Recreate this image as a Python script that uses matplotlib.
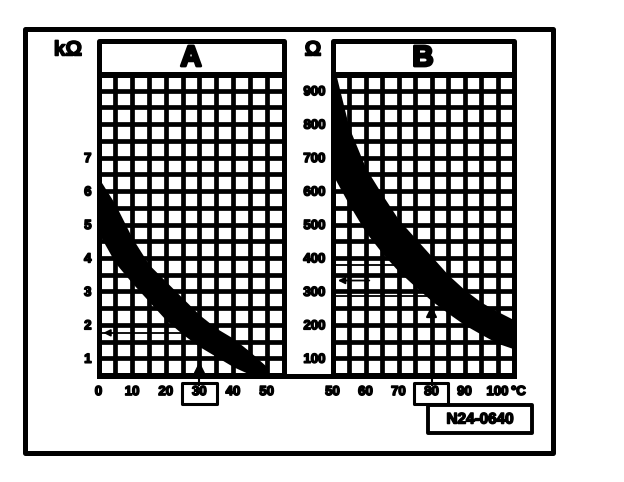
import numpy as np
import matplotlib
matplotlib.use('Agg')
import matplotlib.pyplot as plt
import matplotlib.patheffects as pe
from matplotlib.patches import Rectangle
from matplotlib.lines import Line2D
from matplotlib.transforms import IdentityTransform

plt.rcParams['font.family'] = ['Liberation Sans', 'DejaVu Sans']

# sensor A: resistance band (kOhm) over temperature (degC)
temp_a = [0, 5, 10, 15, 20, 25, 30, 35, 40, 45, 50]
r_hi_a = [6.4, 5.6, 4.6, 3.8, 3.3, 2.8, 2.3, 1.9, 1.6, 1.2, 0.75]
r_lo_a = [4.75, 3.85, 3.25, 2.7, 2.15, 1.72, 1.35, 1.05, 0.75, 0.52, 0.4]
xt_a = [0, 10, 20, 30, 40, 50]
yt_a = [1, 2, 3, 4, 5, 6, 7]

# sensor B: resistance band (Ohm) over temperature (degC)
temp_b = [50, 55, 60, 65, 70, 75, 80, 85, 90, 95, 100, 105]
r_hi_b = [990, 790, 670, 590, 515, 460, 405, 350, 305, 268, 240, 215]
r_lo_b = [650, 560, 478, 415, 360, 315, 272, 235, 200, 172, 145, 128]
xt_b = [50, 60, 70, 80, 90, 100]
yt_b = [100, 200, 300, 400, 500, 600, 700, 800, 900]

# test points
check_t_a, check_r_a = 30, 1.76
check_t_b, check_r_b = 80, [380, 285]
code = 'N24-0640'

W, H = 624, 482
fig = plt.figure(figsize=(W / 100, H / 100), dpi=100)
PX = IdentityTransform()
LW = 3.6
heavy = [pe.withStroke(linewidth=1.1, foreground='k')]
heavier = [pe.withStroke(linewidth=2.0, foreground='k')]


def line_px(xs, ys, lw):
    fig.add_artist(Line2D(xs, [H - y for y in ys], color='k', lw=lw,
                          transform=PX, solid_capstyle='projecting'))


def rect_px(x0, y0, x1, y1, lw):
    fig.add_artist(Rectangle((x0, H - y1), x1 - x0, y1 - y0, fill=False,
                             ec='k', lw=lw, transform=PX, joinstyle='round'))


def panel(x0, x1, xlim, ylim, ystep):
    ax = fig.add_axes([x0 / W, 1 - 375 / H, (x1 - x0) / W, (375 - 74) / H])
    ax.set_xlim(*xlim)
    ax.set_ylim(*ylim)
    ax.vlines(np.arange(xlim[0] + 5, xlim[1], 5), ylim[0], ylim[1],
              color='k', lw=3.4, zorder=1)
    ax.hlines(np.arange(ylim[0] + ystep, ylim[1], ystep), xlim[0], xlim[1],
              color='k', lw=3.4, zorder=1)
    for s in ax.spines.values():
        s.set_linewidth(LW)
    ax.tick_params(length=0, labelsize=9.5)
    ax.tick_params(axis='x', pad=8)
    ax.tick_params(axis='y', pad=5)
    return ax


def style_labels(ax):
    for lab in ax.get_xticklabels() + ax.get_yticklabels():
        lab.set_fontweight('bold')
        lab.set_path_effects(heavy)


# panel A
ax_a = panel(98.5, 283.5, (0, 55), (0.5, 9.5), 0.5)
ax_a.fill_between(temp_a, r_lo_a, r_hi_a, color='k', lw=0, zorder=3)
ax_a.set_xticks(xt_a)
ax_a.set_yticks(yt_a)
ax_a.set_xticklabels([str(v) for v in xt_a])
ax_a.set_yticklabels([str(v) for v in yt_a])
style_labels(ax_a)
ax_a.plot([0, check_t_a], [check_r_a, check_r_a], color='k', lw=1.3, zorder=4)
ax_a.annotate('', xy=(0.6, check_r_a), xytext=(4.5, check_r_a),
              arrowprops=dict(arrowstyle='-|>', color='k', lw=1.3,
                              mutation_scale=10), zorder=4)
ax_a.plot([check_t_a, check_t_a], [check_r_a, 0.2], color='k', lw=1.5,
          clip_on=False, zorder=4)
ax_a.annotate('', xy=(check_t_a, 0.98), xytext=(check_t_a, 0.55),
              arrowprops=dict(arrowstyle='-|>', color='k', lw=1.5,
                              mutation_scale=16), zorder=4)

# panel B
ax_b = panel(332.5, 514, (50, 105), (50, 950), 50)
ax_b.fill_between(temp_b, r_lo_b, r_hi_b, color='k', lw=0, zorder=3)
ax_b.set_xticks(xt_b)
ax_b.set_yticks(yt_b)
ax_b.set_xticklabels([str(v) for v in xt_b])
ax_b.set_yticklabels([str(v) for v in yt_b])
style_labels(ax_b)
for r in check_r_b:
    ax_b.plot([50, check_t_b], [r, r], color='k', lw=1.3, zorder=4)
ax_b.annotate('', xy=(50.8, np.mean(check_r_b)), xytext=(62, np.mean(check_r_b)),
              arrowprops=dict(arrowstyle='-|>', color='k', lw=1.3,
                              mutation_scale=10), zorder=4)
ax_b.plot([check_t_b, check_t_b], [min(check_r_b), 20], color='k', lw=1.5,
          clip_on=False, zorder=4)
ax_b.annotate('', xy=(check_t_b, 265), xytext=(check_t_b, 200),
              arrowprops=dict(arrowstyle='-|>', color='k', lw=1.5,
                              mutation_scale=16), zorder=4)

# outer frame, title boxes, shared baseline
rect_px(24.5, 29, 552.5, 452.5, LW)
rect_px(98.5, 41, 283.5, 74.5, LW)
rect_px(332.5, 41, 514, 74.5, LW)
line_px([98.5, 514], [376, 376], LW)

for x, letter in [(191, 'A'), (423, 'B')]:
    fig.text(x / W, 1 - 58 / H, letter, fontsize=21, fontweight='bold',
             ha='center', va='center', path_effects=heavier)
fig.text(68 / W, 1 - 50 / H, 'kΩ', fontsize=15, fontweight='bold',
         ha='center', va='center', path_effects=heavy)
fig.text(313 / W, 1 - 50 / H, 'Ω', fontsize=15, fontweight='bold',
         ha='center', va='center', path_effects=heavy)
fig.text(511 / W, 1 - 392 / H, '°C', fontsize=9.5, fontweight='bold',
         ha='left', va='center', path_effects=heavy)

# boxed test temperatures and drawing code
rect_px(182, 383, 217, 404, 2.2)
rect_px(414, 383, 448, 404, 2.2)
rect_px(428, 405, 532, 433, 2.8)
fig.text(480 / W, 1 - 419.5 / H, code, fontsize=11, fontweight='bold',
         ha='center', va='center', path_effects=heavy)

fig.savefig('out.png', dpi=100)
